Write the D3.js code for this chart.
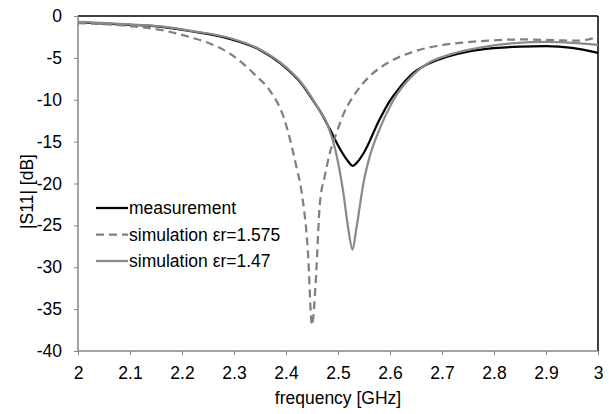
<!DOCTYPE html>
<html>
<head>
<meta charset="utf-8">
<script src="https://cdn.jsdelivr.net/npm/d3@7"></script>
<style>
  body { margin: 0; background: #fff; }
  text { font-family: "Liberation Sans", Arial, sans-serif; }
</style>
</head>
<body>
<div id="chart"></div>
<script>
// measured |S11|
var measFreq = [2.00, 2.10, 2.16, 2.22, 2.29, 2.35, 2.39, 2.43, 2.45, 2.465, 2.485, 2.505, 2.52, 2.528, 2.535, 2.55, 2.578, 2.60, 2.613, 2.645, 2.677, 2.71, 2.75, 2.80, 2.85, 2.90, 2.95, 3.00];
var measDb   = [-0.75, -1.05, -1.3, -1.85, -2.7, -4.05, -5.7, -8.1, -9.9, -11.3, -13.6, -16.0, -17.4, -17.9, -17.6, -16.3, -12.6, -10.1, -9.0, -6.8, -5.6, -4.85, -4.25, -3.85, -3.65, -3.6, -3.8, -4.4];

// simulation er = 1.575
var sim1Freq = [2.00, 2.10, 2.16, 2.22, 2.25, 2.29, 2.34, 2.37, 2.395, 2.42, 2.43, 2.442, 2.45, 2.457, 2.465, 2.475, 2.485, 2.497, 2.51, 2.536, 2.568, 2.60, 2.645, 2.69, 2.74, 2.80, 2.86, 2.92, 2.96, 3.00];
var sim1Db   = [-0.85, -1.2, -1.67, -2.6, -3.2, -4.4, -7.0, -9.0, -12.0, -18.0, -21.0, -28.0, -36.9, -31.9, -22.5, -19.0, -16.2, -14.0, -11.8, -9.0, -6.8, -5.45, -4.26, -3.58, -3.18, -2.9, -2.8, -2.9, -2.95, -2.5];

// simulation er = 1.47
var sim2Freq = [2.00, 2.10, 2.16, 2.22, 2.29, 2.35, 2.39, 2.43, 2.46, 2.48, 2.495, 2.51, 2.52, 2.528, 2.535, 2.55, 2.56, 2.58, 2.60, 2.613, 2.645, 2.677, 2.71, 2.75, 2.80, 2.84, 2.90, 2.95, 3.00];
var sim2Db   = [-0.7, -1.0, -1.25, -1.8, -2.6, -4.0, -5.6, -8.0, -10.8, -13.0, -16.0, -21.0, -25.5, -27.9, -25.5, -19.6, -17.0, -13.5, -10.8, -9.4, -7.0, -5.5, -4.7, -4.05, -3.5, -3.25, -3.1, -3.2, -3.45];

var seriesNames = ["measurement", "simulation \u03b5r=1.575", "simulation \u03b5r=1.47"];
var xTicks = [2, 2.1, 2.2, 2.3, 2.4, 2.5, 2.6, 2.7, 2.8, 2.9, 3];
var yTicks = [0, -5, -10, -15, -20, -25, -30, -35, -40];

var width = 612, height = 414;
var pLeft = 78, pRight = 598, pTop = 16, pBottom = 351;

var svg = d3.select("#chart").append("svg")
  .attr("width", width)
  .attr("height", height);

var x = d3.scaleLinear().domain([2, 3]).range([pLeft, pRight]);
var y = d3.scaleLinear().domain([-40, 0]).range([pBottom, pTop]);

// frame: top and right are dark
svg.append("line").attr("x1", pLeft).attr("x2", pRight).attr("y1", pTop).attr("y2", pTop)
  .attr("stroke", "#000").attr("stroke-width", 1.5);
svg.append("line").attr("x1", pRight).attr("x2", pRight).attr("y1", pTop).attr("y2", pBottom)
  .attr("stroke", "#000").attr("stroke-width", 1.5);

// plain hyphen for negatives, like the original
var fmt = function(d) { return String(d); };

var xAxis = svg.append("g")
  .attr("transform", "translate(0," + pBottom + ")")
  .call(d3.axisBottom(x).tickValues(xTicks).tickSize(4).tickPadding(12).tickFormat(fmt));
var yAxis = svg.append("g")
  .attr("transform", "translate(" + pLeft + ",0)")
  .call(d3.axisLeft(y).tickValues(yTicks).tickSize(4).tickPadding(12).tickFormat(fmt));

[xAxis, yAxis].forEach(function(a) {
  a.select(".domain").attr("stroke", "#868686").attr("stroke-width", 1.5);
  a.selectAll(".tick line").attr("stroke", "#868686").attr("stroke-width", 1);
  a.selectAll(".tick text").attr("fill", "#000")
    .style("font-family", "'Liberation Sans', Arial, sans-serif")
    .style("font-size", "17.5px");
});
// no outer ticks on the domain lines
xAxis.select(".domain").attr("d", "M" + pLeft + ",0H" + pRight);
yAxis.select(".domain").attr("d", "M0," + pTop + "V" + pBottom);

var series = [
  { freq: measFreq, db: measDb, color: "#000000", dash: null },
  { freq: sim1Freq, db: sim1Db, color: "#808080", dash: "8,5" },
  { freq: sim2Freq, db: sim2Db, color: "#8a8a8a", dash: null }
];

var line = d3.line()
  .x(function(d) { return x(d[0]); })
  .y(function(d) { return y(d[1]); })
  .curve(d3.curveMonotoneX);

svg.selectAll(".curve")
  .data(series)
  .enter()
  .append("path")
  .attr("class", "curve")
  .attr("fill", "none")
  .attr("stroke", function(d) { return d.color; })
  .attr("stroke-width", 2.25)
  .attr("stroke-dasharray", function(d) { return d.dash; })
  .attr("d", function(d) {
    return line(d.freq.map(function(f, i) { return [f, d.db[i]]; }));
  });

// legend
var legend = svg.selectAll(".legend")
  .data(series)
  .enter()
  .append("g")
  .attr("class", "legend")
  .attr("transform", function(d, i) { return "translate(96," + (208 + i * 26.5) + ")"; });

legend.append("line")
  .attr("x1", 0).attr("x2", 32).attr("y1", 0).attr("y2", 0)
  .attr("stroke", function(d) { return d.color; })
  .attr("stroke-width", 2.25)
  .attr("stroke-dasharray", function(d) { return d.dash; });

legend.append("text")
  .attr("x", 33)
  .attr("dy", "0.35em")
  .style("font-size", "17.5px")
  .text(function(d, i) { return seriesNames[i]; });

svg.append("text")
  .attr("x", (pLeft + pRight) / 2)
  .attr("y", 404)
  .attr("text-anchor", "middle")
  .style("font-size", "17.5px")
  .text("frequency [GHz]");

svg.append("text")
  .attr("transform", "translate(33," + ((pTop + pBottom) / 2 + 8) + ") rotate(-90)")
  .attr("text-anchor", "middle")
  .style("font-size", "17.5px")
  .text("|S11| [dB]");
</script>
</body>
</html>
